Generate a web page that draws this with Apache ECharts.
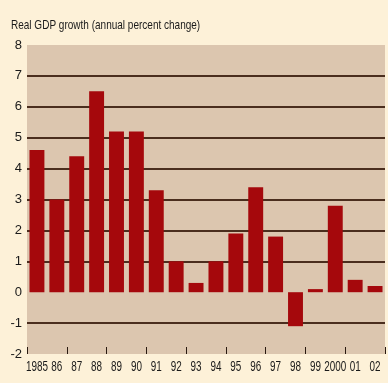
<!DOCTYPE html>
<html>
<head>
<meta charset="utf-8">
<script src="https://cdn.jsdelivr.net/npm/echarts@6/dist/echarts.min.js"></script>
<style>
  html, body { margin: 0; padding: 0; background: #fdf1d8; }
  #chart { width: 388px; height: 383px; }
</style>
</head>
<body>
<div id="chart"></div>
<script>
// Years shown on the category axis
const years = ['1985', '86', '87', '88', '89', '90', '91', '92', '93', '94', '95', '96', '97', '98', '99', '2000', '01', '02'];
// Real GDP growth, annual percent change
const growth = [4.6, 3.0, 4.4, 6.5, 5.2, 5.2, 3.3, 1.0, 0.3, 1.0, 1.9, 3.4, 1.8, -1.1, 0.1, 2.8, 0.4, 0.2];
// Value axis range
const yMin = -2, yMax = 8, yStep = 1;

const font = '"Liberation Sans", Arial, sans-serif';
const ink = '#1a1a1a';
const gridColor = '#4b2e1e';

// Horizontal rules: none at the bottom edge, zero, or top edge
const ruleColors = [];
for (let v = yMin; v <= yMax; v += yStep) {
  ruleColors.push(v === yMin || v === 0 || v === yMax ? 'rgba(0,0,0,0)' : gridColor);
}

const chart = echarts.init(document.getElementById('chart'), null, { renderer: 'canvas' });
chart.setOption({
  backgroundColor: '#fdf1d8',
  animation: false,
  // Condensed heading: a plain sans face squeezed horizontally
  graphic: [{
    type: 'text',
    left: 11,
    top: 19,
    scaleX: 0.77,
    style: { text: 'Real GDP growth (annual percent change)', font: '13px ' + font, fill: ink }
  }],
  grid: {
    left: 27, right: 3, top: 45, bottom: 29,
    show: true, backgroundColor: '#dcc6af', borderWidth: 0
  },
  xAxis: {
    type: 'category',
    data: years,
    axisLine: { show: false, onZero: false },
    axisTick: { show: true, inside: true, length: 7, lineStyle: { color: '#2a1a10', width: 1 } },
    // Year labels are drawn condensed by the label series below
    axisLabel: { show: false }
  },
  yAxis: {
    type: 'value',
    min: yMin, max: yMax, interval: yStep,
    axisLine: { show: false },
    axisTick: { show: false },
    axisLabel: { fontFamily: font, fontSize: 13, color: ink, margin: 5 },
    splitLine: { show: true, lineStyle: { color: ruleColors, width: 2 } }
  },
  series: [{
    type: 'bar',
    data: growth,
    barCategoryGap: '25%',
    itemStyle: { color: '#a5080c' }
  }, {
    // Condensed year labels placed under each category via the axis scales
    type: 'custom',
    clip: false,
    silent: true,
    data: years.map((y, i) => [i, yMin]),
    renderItem: function (params, api) {
      const p = api.coord([api.value(0), api.value(1)]);
      return {
        type: 'text',
        x: p[0],
        y: p[1] + 5,
        scaleX: 0.66,
        style: {
          text: years[params.dataIndex],
          font: '15px ' + font,
          fill: ink,
          textAlign: 'center',
          textVerticalAlign: 'top'
        }
      };
    }
  }]
});
</script>
</body>
</html>
